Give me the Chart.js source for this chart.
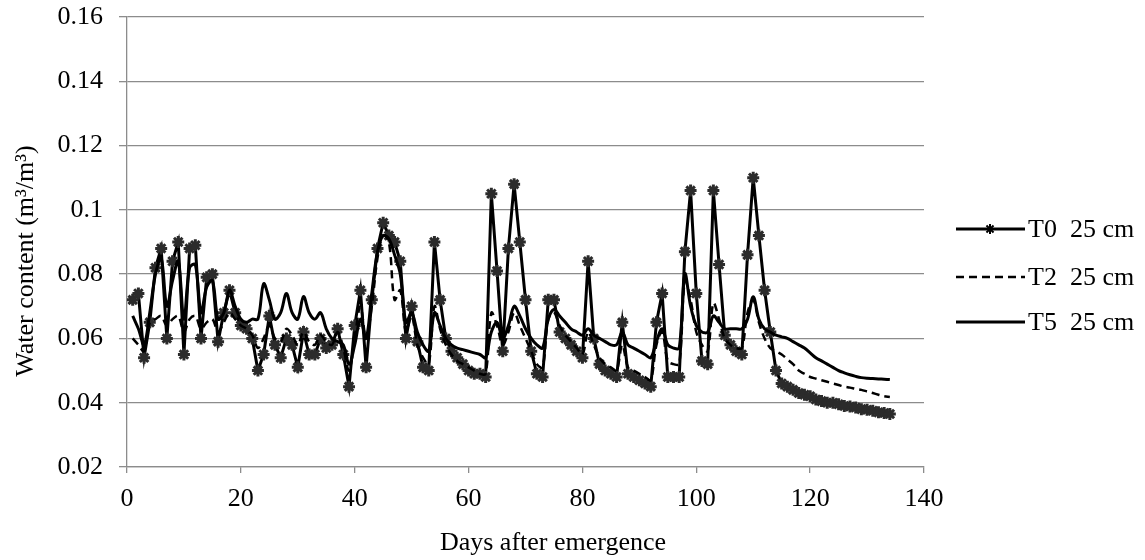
<!DOCTYPE html>
<html><head><meta charset="utf-8">
<script src="https://cdn.jsdelivr.net/npm/chart.js@4/dist/chart.umd.min.js"></script>
<style>html,body{margin:0;padding:0;background:#fff}#wrap{width:1145px;height:560px}</style>
</head><body><div id="wrap"><canvas id="c" width="1145" height="560"></canvas></div>
<script>
const days = [1,2,3,4,5,6,7,8,9,10,11,12,13,14,15,16,17,18,19,20,21,22,23,24,25,26,27,28,29,30,
31,32,33,34,35,36,37,38,39,40,41,42,43,44,45,46,47,48,49,50,51,52,53,54,55,56,57,58,59,60,
61,62,63,64,65,66,67,68,69,70,71,72,73,74,75,76,77,78,79,80,81,82,83,84,85,86,87,88,89,90,
91,92,93,94,95,96,97,98,99,100,101,102,103,104,105,106,107,108,109,110,111,112,113,114,115,116,117,118,119,120,
121,122,123,124,125,126,127,128,129,130,131,132,133,134];

const t0 = [0.072,0.074,0.054,0.065,0.082,0.088,0.060,0.084,0.090,0.055,
0.088,0.089,0.060,0.079,0.080,0.059,0.068,0.075,0.068,0.064,
0.063,0.060,0.050,0.055,0.067,0.058,0.054,0.060,0.058,0.051,
0.062,0.055,0.055,0.060,0.057,0.058,0.063,0.055,0.045,0.064,
0.075,0.051,0.072,0.088,0.096,0.092,0.090,0.084,0.060,0.070,
0.059,0.051,0.050,0.090,0.072,0.060,0.056,0.054,0.052,0.050,
0.049,0.049,0.048,0.105,0.081,0.056,0.088,0.108,0.090,0.072,
0.056,0.049,0.048,0.072,0.072,0.062,0.060,0.058,0.056,0.054,
0.084,0.060,0.052,0.050,0.049,0.048,0.065,0.049,0.048,0.047,
0.046,0.045,0.065,0.074,0.048,0.048,0.048,0.087,0.106,0.074,
0.053,0.052,0.106,0.083,0.061,0.058,0.056,0.055,0.086,0.110,
0.092,0.075,0.062,0.050,0.046,0.045,0.044,0.043,0.0425,0.042,
0.041,0.0405,0.040,0.040,0.0395,0.039,0.0388,0.0385,0.038,0.0378,
0.0375,0.037,0.0368,0.0365];

const t2 = [0.060,0.058,0.056,0.065,0.066,0.067,0.064,0.066,0.067,0.062,
0.066,0.067,0.063,0.065,0.066,0.062,0.065,0.068,0.066,0.064,
0.063,0.061,0.057,0.060,0.064,0.060,0.059,0.063,0.061,0.058,
0.062,0.059,0.058,0.061,0.059,0.058,0.062,0.057,0.050,0.060,
0.070,0.060,0.070,0.085,0.092,0.090,0.072,0.075,0.062,0.067,
0.058,0.054,0.052,0.070,0.063,0.058,0.055,0.053,0.052,0.051,
0.050,0.049,0.049,0.068,0.064,0.058,0.062,0.068,0.064,0.060,
0.056,0.052,0.051,0.066,0.068,0.064,0.061,0.059,0.057,0.055,
0.062,0.058,0.054,0.052,0.051,0.050,0.058,0.051,0.050,0.049,
0.048,0.047,0.058,0.062,0.053,0.052,0.052,0.078,0.072,0.062,
0.058,0.056,0.071,0.066,0.060,0.058,0.057,0.057,0.068,0.072,
0.065,0.060,0.057,0.056,0.055,0.0535,0.052,0.050,0.049,0.048,
0.0475,0.047,0.0465,0.046,0.0455,0.045,0.0447,0.0443,0.044,0.0435,
0.043,0.0425,0.042,0.0418];

const t5 = [0.067,0.063,0.058,0.068,0.080,0.085,0.070,0.078,0.084,0.066,
0.082,0.083,0.068,0.076,0.078,0.066,0.068,0.075,0.070,0.066,
0.065,0.066,0.066,0.077,0.072,0.066,0.068,0.074,0.068,0.066,
0.073,0.068,0.066,0.068,0.063,0.060,0.059,0.058,0.052,0.058,
0.066,0.060,0.074,0.087,0.092,0.091,0.086,0.080,0.065,0.068,
0.062,0.058,0.056,0.068,0.064,0.060,0.058,0.057,0.0565,0.056,
0.0555,0.055,0.054,0.062,0.065,0.060,0.064,0.070,0.067,0.063,
0.060,0.058,0.057,0.066,0.069,0.067,0.065,0.063,0.062,0.061,
0.063,0.061,0.060,0.059,0.058,0.058,0.062,0.058,0.057,0.056,
0.055,0.054,0.059,0.063,0.058,0.057,0.057,0.080,0.070,0.064,
0.062,0.062,0.067,0.065,0.063,0.063,0.063,0.063,0.066,0.073,
0.066,0.063,0.062,0.061,0.0605,0.060,0.059,0.058,0.057,0.0555,
0.054,0.053,0.052,0.051,0.050,0.0493,0.0487,0.0482,0.0478,0.0476,
0.0475,0.0474,0.0473,0.0472];

const seriesNames = ['T0  25 cm','T2  25 cm','T5  25 cm'];
const yTicks = [0.02,0.04,0.06,0.08,0.1,0.12,0.14,0.16];
const xTicks = [0,20,40,60,80,100,120,140];
const xTitle = 'Days after emergence';
const yTitle = 'Water content (m³/m³)';

const FONT = 'Liberation Serif, Times New Roman, serif';
const pts = arr => days.map((d,i)=>({x:d,y:arr[i]}));

const legendPlugin = {
  id:'customLegend',
  afterDraw(chart){
    const ctx = chart.ctx;
    const ys = [229,277,322];
    chart.data.datasets.forEach((ds,i)=>{
      const y = ys[i];
      ctx.save();
      ctx.strokeStyle = '#000';
      ctx.lineWidth = ds.borderWidth;
      ctx.setLineDash(ds.borderDash || []);
      ctx.beginPath(); ctx.moveTo(956,y); ctx.lineTo(1025,y); ctx.stroke();
      ctx.setLineDash([]);
      if (ds.pointRadius>0){
        ctx.strokeStyle = '#000'; ctx.fillStyle = '#000'; ctx.lineWidth = 2;
        Chart.helpers.drawPoint(ctx,{pointStyle:'star',radius:5,borderWidth:2,rotation:0},990,y);
      }
      ctx.fillStyle = '#000';
      ctx.font = '26px ' + FONT;
      ctx.textBaseline = 'middle';
      ctx.textAlign = 'left';
      ctx.fillText(ds.label, 1028, y+1);
      ctx.restore();
    });
    // axis titles
    ctx.save();
    ctx.fillStyle = '#000';
    ctx.font = '26px ' + FONT;
    ctx.textAlign = 'center';
    ctx.textBaseline = 'middle';
    ctx.fillText(xTitle, 553, 543);
    ctx.translate(26, 261);
    ctx.rotate(-Math.PI/2);
    ctx.fillText(yTitle, 0, 0);
    ctx.restore();
  }
};

new Chart(document.getElementById('c'), {
  type:'line',
  data:{datasets:[
    {label:seriesNames[0], data:pts(t0), borderColor:'#000', borderWidth:3, tension:0,
     pointStyle:'star', pointRadius:6, pointBorderWidth:3, pointBorderColor:'#2b2b2b', pointBackgroundColor:'#2b2b2b', order:3},
    {label:seriesNames[1], data:pts(t2), borderColor:'#000', borderWidth:2.5, borderDash:[8,5], tension:0.35,
     pointRadius:0, order:2},
    {label:seriesNames[2], data:pts(t5), borderColor:'#000', borderWidth:3, tension:0.35,
     pointRadius:0, order:1}
  ]},
  options:{
    responsive:false, animation:false, devicePixelRatio:1,
    layout:{padding:{left:0,right:221,top:17,bottom:0}},
    plugins:{legend:{display:false}, tooltip:{enabled:false}},
    scales:{
      x:{type:'linear', min:0, max:140,
        afterBuildTicks: s => { s.ticks = xTicks.map(v=>({value:v})); },
        afterFit: s => { s.height = 93; s.paddingLeft = 0; s.paddingRight = 0; },
        grid:{drawOnChartArea:false, color:'#8c8c8c', tickLength:6, lineWidth:1.3},
        border:{color:'#8c8c8c', width:1.3},
        ticks:{font:{family:FONT,size:26}, color:'#000', padding:11, maxRotation:0},
        title:{display:false}
      },
      y:{type:'linear', min:0.02, max:0.16,
        afterBuildTicks: s => { s.ticks = yTicks.map(v=>({value:v})); },
        afterFit: s => { s.width = 127; s.paddingTop = 0; s.paddingBottom = 0; },
        grid:{color:'#8c8c8c', tickLength:8, lineWidth:1.3},
        border:{color:'#8c8c8c', width:1.3},
        ticks:{font:{family:FONT,size:26}, color:'#000', padding:16, callback:v=>String(+v.toFixed(2))},
        title:{display:false}
      }
    }
  },
  plugins:[legendPlugin]
});
</script></body></html>
